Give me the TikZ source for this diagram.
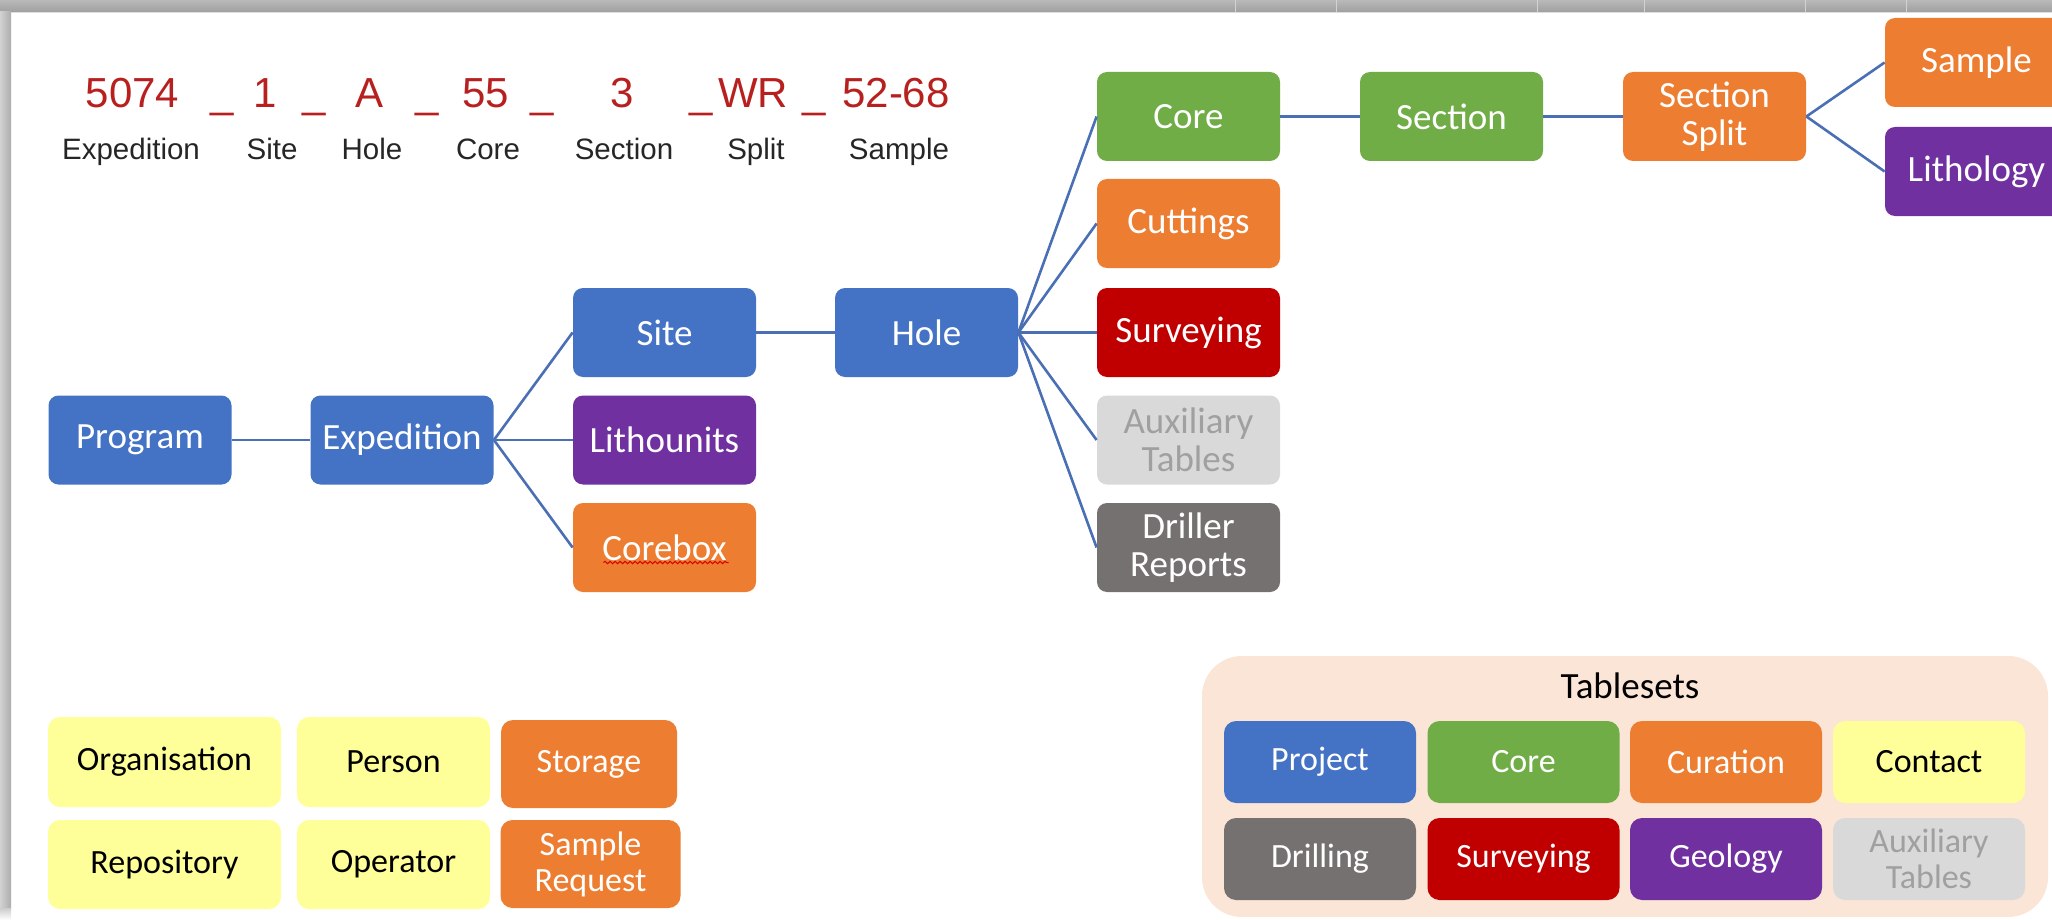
\documentclass[tikz,border=0pt]{standalone}
\usepackage{fontspec}
\setmainfont{Carlito}
\newfontfamily\arialf{Liberation Sans}
\usetikzlibrary{decorations.pathmorphing,calc}
\definecolor{cblue}{HTML}{4472C4}
\definecolor{cgreen}{HTML}{70AD47}
\definecolor{corange}{HTML}{ED7D31}
\definecolor{cpurple}{HTML}{7030A0}
\definecolor{cred}{HTML}{C00000}
\definecolor{cltgray}{HTML}{D9D9D9}
\definecolor{cauxtext}{HTML}{A0A0A0}
\definecolor{cdkgray}{HTML}{767171}
\definecolor{cyellow}{HTML}{FFFF99}
\definecolor{cpeach}{HTML}{FBE5D6}
\definecolor{ctopred}{HTML}{B8201F}
\definecolor{clink}{HTML}{4A6FB5}
\begin{document}
\begin{tikzpicture}[x=0.5pt,y=-0.5pt,
  box/.style={rounded corners=5pt, minimum width=91.5pt, minimum height=44.5pt, inner sep=0pt, align=center, text=white, font=\fontsize{18.5}{19}\selectfont},
  bluebox/.style={box, fill=cblue},
  greenbox/.style={box, fill=cgreen},
  orangebox/.style={box, fill=corange},
  purplebox/.style={box, fill=cpurple},
  redbox/.style={box, fill=cred},
  auxbox/.style={box, fill=cltgray, text=cauxtext},
  dkbox/.style={box, fill=cdkgray},
  sbox/.style={rounded corners=6pt, minimum height=45pt, inner sep=0pt, align=center, font=\fontsize{17}{18}\selectfont},
  ybox/.style={sbox, fill=cyellow, text=black},
  obox/.style={sbox, fill=corange, text=white},
  tbox/.style={rounded corners=6pt, minimum width=96pt, minimum height=41pt, inner sep=0pt, align=center, text=white, font=\fontsize{17}{18}\selectfont},
  link/.style={draw=clink, line width=1.3pt},
  redtxt/.style={anchor=base, inner sep=0pt, text=ctopred, font=\arialf\fontsize{21}{25}\selectfont},
  lbltxt/.style={anchor=base, inner sep=0pt, text=black!85, font=\arialf\fontsize{14.75}{18}\selectfont}
]
\useasboundingbox (0,0) rectangle (2052,920);
\fill[white] (0,0) rectangle (2052,920);
% screenshot frame
\shade[top color=gray!55, bottom color=gray!75] (0,0) rectangle (2052,12);
\fill[gray!25] (0,12) rectangle (2052,13);
\shade[left color=gray!35, right color=gray!65] (0,12) rectangle (11,908);
\shade[top color=gray!40, bottom color=white] (0,908) rectangle (11,920);
\foreach \xx in {1235,1336,1537,1644,1805,1906} \draw[gray!35, line width=0.4pt] (\xx,0) -- (\xx,12);

% identifier line
\node[redtxt] (r1) at (132.5,108) {5074};
\node[redtxt] (r2) at (222.5,108) {\_};
\node[redtxt] (r3) at (265,108) {1};
\node[redtxt] (r4) at (314,108) {\_};
\node[redtxt] (r5) at (370,108) {A};
\node[redtxt] (r6) at (427.5,108) {\_};
\node[redtxt] (r7) at (486,108) {55};
\node[redtxt] (r8) at (542,108) {\_};
\node[redtxt] (r9) at (622,108) {3};
\node[redtxt] (r10) at (701,108) {\_};
\node[redtxt] (r11) at (753,108) {WR};
\node[redtxt] (r12) at (814,108) {\_};
\node[redtxt] (r13) at (896,108) {52-68};
\node[lbltxt] (l1) at (131,160) {Expedition};
\node[lbltxt] (l2) at (272,160) {Site};
\node[lbltxt] (l3) at (372,160) {Hole};
\node[lbltxt] (l4) at (488,160) {Core};
\node[lbltxt] (l5) at (624,160) {Section};
\node[lbltxt] (l6) at (756,160) {Split};
\node[lbltxt] (l7) at (899,160) {Sample};

% hierarchy
\node[bluebox] (prog) at (140,440) {Program};
\node[bluebox] (exped) at (402,440) {Expedition};
\node[bluebox] (site) at (664.5,332.5) {Site};
\node[purplebox] (litho) at (664.5,440) {Lithounits};
\node[orangebox] (corebox) at (664.5,547.5) {Corebox};
\node[bluebox] (hole) at (926.5,332.5) {Hole};
\node[greenbox] (core) at (1188.5,116.5) {Core};
\node[orangebox] (cuttings) at (1188.5,223.5) {Cuttings};
\node[redbox] (survey) at (1188.5,332.5) {Surveying};
\node[auxbox] (aux) at (1188.5,440) {Auxiliary\\Tables};
\node[dkbox] (driller) at (1188.5,547.5) {Driller\\Reports};
\node[greenbox] (section) at (1451.5,116.5) {Section};
\node[orangebox] (split) at (1714.5,116.5) {Section\\Split};
\node[orangebox] (sample) at (1976.5,62.5) {Sample};
\node[purplebox] (lithology) at (1976.5,171.5) {Lithology};

% spell-check underline
\coordinate (u1) at ($(corebox.center)+(-61,15)$);
\coordinate (u2) at ($(corebox.center)+(64,15)$);
\draw[red!85!black, line width=0.5pt, decorate, decoration={snake, amplitude=0.6pt, segment length=2.5pt}] (u1) -- (u2);

\draw[link] (prog.east) -- (exped.west);
\draw[link] (exped.east) -- (site.west);
\draw[link] (exped.east) -- (litho.west);
\draw[link] (exped.east) -- (corebox.west);
\draw[link] (site.east) -- (hole.west);
\draw[link] (hole.east) -- (core.west);
\draw[link] (hole.east) -- (cuttings.west);
\draw[link] (hole.east) -- (survey.west);
\draw[link] (hole.east) -- (aux.west);
\draw[link] (hole.east) -- (driller.west);
\draw[link] (core.east) -- (section.west);
\draw[link] (section.east) -- (split.west);
\draw[link] (split.east) -- (sample.west);
\draw[link] (split.east) -- (lithology.west);

% bottom-left boxes
\node[ybox, minimum width=116.5pt] (org) at (164.5,762) {Organisation};
\node[ybox, minimum width=96.5pt] (person) at (393.5,762) {Person};
\node[obox, minimum width=88pt, minimum height=44pt] (storage) at (589,764) {Storage};
\node[ybox, minimum width=116.5pt, minimum height=44.5pt] (repo) at (164.5,864.5) {Repository};
\node[ybox, minimum width=96.5pt, minimum height=44.5pt] (operator) at (393.5,864.5) {Operator};
\node[obox, minimum width=90pt, minimum height=44pt] (sreq) at (590.5,864) {Sample\\Request};

% tablesets
\node[rounded corners=20pt, fill=cpeach, minimum width=423pt, minimum height=130.5pt, inner sep=0pt] (tsets) at (1625,786.5) {};
\node[anchor=base, inner sep=0pt, font=\fontsize{18.5}{20}\selectfont] (tstitle) at (1630,698) {Tablesets};
\node[tbox, fill=cblue] (tproj) at (1320,762) {Project};
\node[tbox, fill=cgreen] (tcore) at (1523.5,762) {Core};
\node[tbox, fill=corange] (tcur) at (1726,762) {Curation};
\node[tbox, fill=cyellow, text=black] (tcont) at (1929,762) {Contact};
\node[tbox, fill=cdkgray] (tdrill) at (1320,859) {Drilling};
\node[tbox, fill=cred] (tsurv) at (1523.5,859) {Surveying};
\node[tbox, fill=cpurple] (tgeo) at (1726,859) {Geology};
\node[tbox, fill=cltgray, text=cauxtext] (taux) at (1929,859) {Auxiliary\\Tables};
\end{tikzpicture}
\end{document}
